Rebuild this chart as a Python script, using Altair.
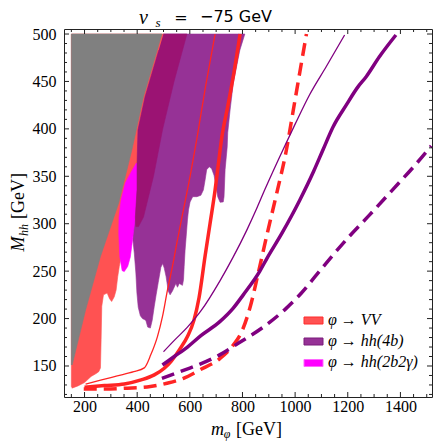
import altair as alt
import pandas as pd

X_DOMAIN = [122, 1520]
Y_DOMAIN = [117.3, 505.3]

x_major = [200, 400, 600, 800, 1000, 1200, 1400]
x_minor = [v for v in range(150, 1501, 50) if v not in x_major]
y_major = [150, 200, 250, 300, 350, 400, 450, 500]
y_minor = [v for v in range(120, 501, 10) if v not in y_major]

# excluded regions (boundary points, GeV)
gray_region = [(150, 151), (150, 500), (494, 500), (441, 450), (424, 434), (380, 378),
               (330, 322), (260, 265), (204, 209), (153, 151)]

vv_region = [(150, 128), (150, 500), (503, 500), (482, 483), (447, 450), (430, 434),
             (403, 399), (399.5, 364), (380, 330), (360, 300), (349, 283), (341, 269),
             (332, 255), (326, 244), (320, 230), (313, 223), (303, 218), (295, 221),
             (286, 227), (272, 225), (265.5, 213), (263, 178), (260.5, 148), (254, 144),
             (244, 142), (225, 139), (200, 132.5), (175, 129), (152, 126.6)]

hh4b_region = [(380.5, 325), (399.5, 364), (403, 399), (430, 434), (447, 450), (482, 483),
               (500, 500), (809, 500), (790, 483), (765, 448), (753, 420), (744, 396),
               (742, 381), (734, 357), (730, 328.5), (727, 323), (715, 322.6), (706, 328.5),
               (700, 339), (692, 351), (683, 358), (674, 360), (664, 357), (658, 346),
               (651.5, 335.6), (642, 330), (627, 328.5), (611, 328.5), (601, 323),
               (595, 314.5), (591, 304), (586, 286), (582, 272), (578.5, 255), (576, 241),
               (572, 235), (560, 237), (553, 233), (547, 237), (534, 229), (525, 225),
               (518, 229), (510, 244), (503, 253), (497, 258), (490, 254), (480, 238),
               (472, 225), (465, 213), (457, 198), (450, 190), (440, 191), (433, 198),
               (427, 199), (420, 200), (412, 203), (404, 212), (399, 227), (395, 248),
               (389, 269), (383, 285)]

hh2b2g_region = [(397, 364), (374, 353), (355, 343), (339, 325), (331, 307), (330, 290),
                 (334, 265), (343, 250.5), (351, 249.5), (364, 255), (374, 265),
                 (380.5, 279), (386.6, 293), (393, 307), (399.5, 336), (399.5, 364)]

overlap_region = [(500, 500), (589, 500), (540, 450), (497, 400), (462, 350), (424, 307),
                  (405, 297), (395, 297), (393, 307), (399.5, 336), (399.5, 364),
                  (403, 399), (430, 434), (447, 450), (482, 483)]

# projected sensitivity curves
vv_thin = [(204, 131), (261, 135), (324, 139.5), (387, 144), (427, 148), (452, 162),
           (477, 181), (496, 202), (515, 230), (534, 255), (553, 283), (576, 315),
           (601, 350), (627, 390), (660, 445), (696, 500)]
vv_thick = [(200, 127.6), (276, 129.3), (351, 131), (415, 135.3), (465, 140.6),
            (503, 147.6), (528, 154.6), (560, 167), (591, 181), (616, 198.6),
            (635, 222), (658, 266), (677, 300.5), (696, 335.6), (708, 362),
            (721, 390), (745, 425), (768, 460), (791, 500)]
vv_dashed = [(197, 125.8), (273, 125.8), (362, 126.6), (450, 128.3), (513, 131.8),
             (576, 137), (639, 146), (715, 158), (765, 172), (800, 188), (830, 213),
             (860, 248), (891, 286), (930, 332), (967, 378), (992, 418), (1018, 460),
             (1043, 500)]
hh_thin = [(500, 165), (541, 177), (591, 191), (642, 208), (715, 240), (765, 265),
           (816, 293), (854, 316), (885, 336), (954, 378), (1000, 405), (1055, 436),
           (1119, 466), (1188, 499)]
hh_thick = [(496, 151), (541, 160), (591, 170), (642, 182), (715, 197), (765, 211),
            (803, 225), (866, 250), (892, 263), (950, 290), (1018, 325), (1070, 355),
            (1106, 378), (1144, 402), (1194, 425), (1238, 444), (1270, 455),
            (1320, 476), (1383, 499)]
hh_dashed = [(494, 137), (563, 144), (639, 152), (715, 162), (790, 175), (879, 191),
             (967, 211), (1024, 227), (1081, 246), (1144, 267), (1207, 287),
             (1282, 309), (1371, 336), (1450, 360), (1517, 382)]

legend_labels = ["φ → VV", "φ → hh(4b)", "φ → hh(2b2γ)"]
legend_fill = ["#FF5252", "#963296", "#FF00FF"]
legend_stroke = ["#FF2A2A", "#7A1A7A", "#FF66FF"]

RED = "#FF2424"
PURPLE = "#800080"

xs = alt.Scale(domain=X_DOMAIN, nice=False, zero=False)
ys = alt.Scale(domain=Y_DOMAIN, nice=False, zero=False)

x_axis = alt.Axis(values=x_major, format="d", ticks=False, tickSize=0, domain=False,
                  grid=False, labelFont="Liberation Serif", labelFontSize=16,
                  labelColor="black", labelPadding=1, title=None)
y_axis = alt.Axis(values=y_major, format="d", ticks=False, tickSize=0, domain=False,
                  grid=False, labelFont="Liberation Serif", labelFontSize=16,
                  labelColor="black", labelPadding=8, title=None)


def X():
    return alt.X("x:Q", scale=xs, axis=x_axis)


def Y():
    return alt.Y("y:Q", scale=ys, axis=y_axis)


def frame(points):
    return pd.DataFrame({"x": [p[0] for p in points],
                         "y": [p[1] for p in points],
                         "i": list(range(len(points)))})


def region(points, color):
    return alt.Chart(frame(points)).mark_line(
        fill=color, stroke=color, strokeWidth=0.6, interpolate="linear"
    ).encode(x=X(), y=Y(), order="i:Q")


def curve(points, color, width, dash=None):
    kw = dict(color=color, strokeWidth=width, interpolate="monotone", strokeCap="butt")
    if dash:
        kw["strokeDash"] = dash
    return alt.Chart(frame(points)).mark_line(**kw).encode(x=X(), y=Y(), order="i:Q")


layers = [
    region(hh4b_region, "#963296"),
    region(vv_region, "#FF5252"),
    region(gray_region, "#808080"),
    region(hh2b2g_region, "#FF00FF"),
    region(overlap_region, "#9B1373"),
    curve(vv_thin, RED, 1.3),
    curve(vv_thick, RED, 3.5),
    curve(vv_dashed, RED, 3.5, [13, 7]),
    curve(hh_thin, PURPLE, 1.3),
    curve(hh_thick, PURPLE, 3.5),
    curve(hh_dashed, PURPLE, 3.5, [13, 7]),
]

# frame ticks (inward)
xmaj = pd.DataFrame({"x": x_major})
xmin = pd.DataFrame({"x": x_minor})
ymaj = pd.DataFrame({"y": y_major})
ymin = pd.DataFrame({"y": y_minor})
tick_col = "#222222"
for df, ln in [(xmaj, 5), (xmin, 3)]:
    layers.append(alt.Chart(df).mark_rule(color=tick_col, strokeWidth=1).encode(
        x=X(), y=alt.value(368), y2=alt.value(368 - ln)))
    layers.append(alt.Chart(df).mark_rule(color=tick_col, strokeWidth=1).encode(
        x=X(), y=alt.value(0), y2=alt.value(ln)))
for df, ln in [(ymaj, 5), (ymin, 3)]:
    layers.append(alt.Chart(df).mark_rule(color=tick_col, strokeWidth=1).encode(
        y=Y(), x=alt.value(0), x2=alt.value(ln)))
    layers.append(alt.Chart(df).mark_rule(color=tick_col, strokeWidth=1).encode(
        y=Y(), x=alt.value(368), x2=alt.value(368 - ln)))

# legend
dummy = pd.DataFrame({"a": [0]})
sw_top = [288, 309, 330.5]
txt_base = [295.5, 317, 338]
for i in range(3):
    layers.append(alt.Chart(dummy).mark_rect(
        fill=legend_fill[i], stroke=legend_stroke[i], strokeWidth=1
    ).encode(x=alt.value(240), x2=alt.value(259), y=alt.value(sw_top[i]),
             y2=alt.value(sw_top[i] + 7)))
    layers.append(alt.Chart(dummy).mark_text(
        text=legend_labels[i], font="Liberation Serif", fontStyle="italic", fontSize=16,
        align="left", baseline="alphabetic", color="black"
    ).encode(x=alt.value(264), y=alt.value(txt_base[i])))


def label(text, x, y, size, style="normal", font="Liberation Serif", angle=0, align="center"):
    kw = dict(text=text, font=font, fontSize=size, align=align,
              baseline="alphabetic", color="black")
    if style != "normal":
        kw["fontStyle"] = style
    if angle:
        kw["angle"] = angle
    return alt.Chart(dummy).mark_text(**kw).encode(x=alt.value(x), y=alt.value(y))


# title  v_s = -75 GeV
layers += [
    label("v", 79.5, -5, 20, "italic"),
    label("s", 94, -2, 13, "italic"),
    label("=", 117, -6, 16, font="DejaVu Sans"),
    label("−75 GeV", 136, -7, 16, font="DejaVu Sans", align="left"),
]
# x title  m_phi [GeV]
layers += [
    label("m", 153.5, 406, 18, "italic"),
    label("φ", 163, 409, 12, "italic"),
    label("[GeV]", 195, 406, 18),
]
# y title  M_hh [GeV]
layers += [
    label("M", -40, 215, 18, "italic", angle=270),
    label("hh", -36.5, 201, 12, "italic", angle=270),
    label("[GeV]", -40, 167, 18, angle=270),
]

chart = alt.layer(*layers).properties(
    width=368, height=368,
    autosize=alt.AutoSizeParams(type="none"),
    padding={"left": 64, "top": 29, "right": 1, "bottom": 45},
).configure_view(stroke="#222222", strokeWidth=1).configure_axis(
    labelFont="Liberation Serif", labelFontSize=16, labelColor="black"
)

chart.save("out.html", embed_options={"renderer": "svg", "actions": False})
